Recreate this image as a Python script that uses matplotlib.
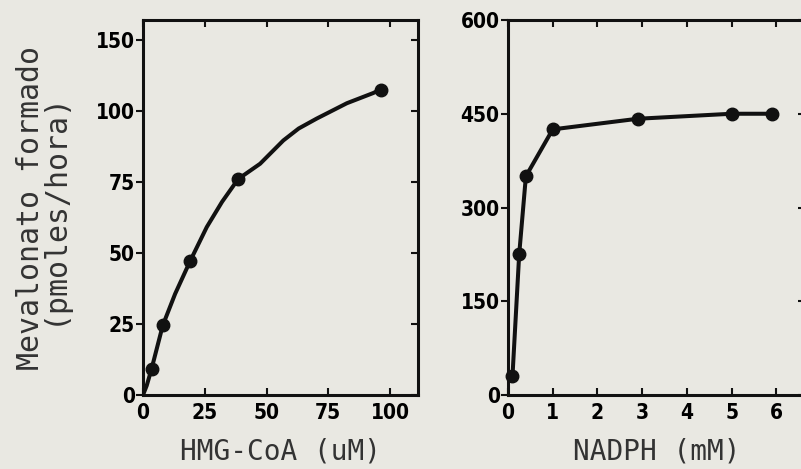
import matplotlib
matplotlib.use("Agg")
import matplotlib.pyplot as plt
from matplotlib.font_manager import FontProperties

# HMG-CoA panel
hmg_x = [3.5, 8, 19, 38.5, 96.5]
hmg_y = [9, 24.5, 47, 76, 107.5]
# hand-drawn curve, traced point by point
hmg_curve_x = [0, 1.5, 3.5, 8, 13, 19, 25.8, 32, 38.5, 47.4, 56.8, 63, 70.3, 82.5, 93.2, 96.5]
hmg_curve_y = [0, 3.3, 9.3, 24.5, 35.6, 47, 59.1, 68, 76, 81.4, 89.6, 93.8, 97.3, 102.7, 106.3, 107.7]
hmg_yticks = [0, 25, 50, 75, 100, 125]
hmg_ylabels = ['0', '25', '50', '75', '100', '150']   # as printed in the original
hmg_xticks = [0, 25, 50, 75, 100]

# NADPH panel
nadph_x = [0.1, 0.25, 0.4, 1, 2.9, 5, 5.9]
nadph_y = [30, 225, 350, 425, 442, 450, 450]
nadph_yticks = [0, 150, 300, 450, 600]
nadph_xticks = [0, 1, 2, 3, 4, 5, 6]

bg = '#e9e8e2'
ink = '#111111'
tickfont = FontProperties(family='DejaVu Sans', weight='bold', size=15, stretch='condensed')

fig = plt.figure(figsize=(8.01, 4.69), dpi=100, facecolor=bg)
ax1 = fig.add_axes([143/801, 1-395/469, 275/801, 375/469])
ax2 = fig.add_axes([508/801, 1-395/469, 297/801, 375/469])

ax1.plot(hmg_curve_x, hmg_curve_y, color=ink, lw=2.9, solid_capstyle='butt', zorder=2)
ax1.plot(hmg_x, hmg_y, 'o', color=ink, ms=9, zorder=3, clip_on=False)
ax1.set_xlim(0, 111.3)
ax1.set_ylim(0, 132)
ax1.set_xticks(hmg_xticks)
ax1.set_yticks(hmg_yticks)
ax1.set_yticklabels(hmg_ylabels)
ax1.set_xlabel('HMG-CoA (uM)', labelpad=10, family='DejaVu Sans Mono', size=20, color='#333333')
ax1.set_ylabel('Mevalonato formado\n(pmoles/hora)', labelpad=20, linespacing=0.72,
               family='DejaVu Sans Mono', size=21.5, color='#333333')

ax2.plot(nadph_x, nadph_y, color=ink, lw=2.9, zorder=2)
ax2.plot(nadph_x, nadph_y, 'o', color=ink, ms=9, zorder=3, clip_on=False)
ax2.set_xlim(0, 6.64)
ax2.set_ylim(0, 600)
ax2.set_xticks(nadph_xticks)
ax2.set_yticks(nadph_yticks)
ax2.set_xlabel('NADPH (mM)', labelpad=10, family='DejaVu Sans Mono', size=20, color='#333333')

for ax in (ax1, ax2):
    ax.set_facecolor(bg)
    for s in ax.spines.values():
        s.set_linewidth(2.2)
        s.set_color(ink)
    ax.tick_params(axis='y', left=True, right=True, direction='out',
                   length=5, width=1.5, color=ink, pad=1)
    ax.tick_params(axis='x', bottom=True, top=True, direction='in',
                   length=5, width=1.5, color=ink, pad=6)
    for lab in ax.get_xticklabels() + ax.get_yticklabels():
        lab.set_fontproperties(tickfont)
    # right-spine ticks point inward (to the left)
    for t in ax.yaxis.get_major_ticks():
        t.tick2line.set_marker(0)

fig.savefig('out.png', dpi=100, facecolor=bg)
